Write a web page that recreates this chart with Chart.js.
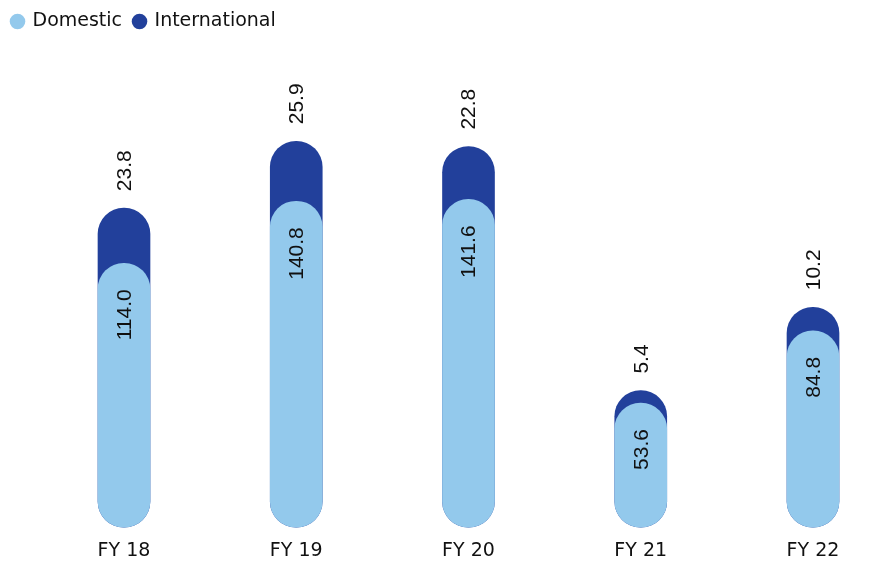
<!DOCTYPE html>
<html>
<head>
<meta charset="utf-8">
<script src="https://cdn.jsdelivr.net/npm/chart.js@4/dist/chart.umd.min.js"></script>
<style>
  html, body { margin: 0; padding: 0; background: #fff; }
  #wrap { width: 880px; height: 561px; position: relative; }
</style>
</head>
<body>
<div id="wrap"><canvas id="chart"></canvas></div>
<script>
const years = ['FY 18', 'FY 19', 'FY 20', 'FY 21', 'FY 22'];
const domestic = [114.0, 140.8, 141.6, 53.6, 84.8];
const international = [23.8, 25.9, 22.8, 5.4, 10.2];

const lightBlue = '#93c9ec';
const darkBlue = '#22409b';
const textFont = '"DejaVu Sans", sans-serif';
const labelFont = '"Liberation Sans", Arial, sans-serif';

// international pill sits behind the domestic pill, reaching up to the total
const totals = domestic.map((d, i) => d + international[i]);

// rotated value labels: domestic inside the pill, international above it
const valueLabels = {
    id: 'valueLabels',
    afterDatasetsDraw(chart) {
        const ctx = chart.ctx;
        const dom = chart.getDatasetMeta(0).data;
        const intl = chart.getDatasetMeta(1).data;
        ctx.save();
        ctx.fillStyle = '#111';
        ctx.font = '21px ' + labelFont;
        ctx.textBaseline = 'middle';
        dom.forEach((bar, i) => {
            ctx.save();
            ctx.translate(bar.x + 1, bar.y + 26);
            ctx.rotate(-Math.PI / 2);
            ctx.textAlign = 'right';
            ctx.fillText(domestic[i].toFixed(1), 0, 0);
            ctx.restore();
        });
        intl.forEach((bar, i) => {
            ctx.save();
            ctx.translate(bar.x + 1, bar.y - 17);
            ctx.rotate(-Math.PI / 2);
            ctx.textAlign = 'left';
            ctx.fillText(international[i].toFixed(1), 0, 0);
            ctx.restore();
        });
        ctx.restore();
    }
};

new Chart(document.getElementById('chart'), {
    type: 'bar',
    data: {
        labels: years,
        datasets: [
            {
                label: 'Domestic',
                data: domestic,
                backgroundColor: lightBlue,
                grouped: false,
                barThickness: 52,
                borderRadius: 26,
                borderSkipped: false,
                clip: false
            },
            {
                label: 'International',
                data: totals,
                backgroundColor: darkBlue,
                grouped: false,
                barThickness: 52,
                borderRadius: 26,
                borderSkipped: false,
                clip: false
            }
        ]
    },
    options: {
        responsive: true,
        maintainAspectRatio: false,
        animation: false,
        layout: { padding: { left: 0, right: 67, top: 0, bottom: -13 } },
        plugins: {
            tooltip: { enabled: false },
            legend: {
                position: 'top',
                align: 'start',
                labels: {
                    usePointStyle: true,
                    pointStyle: 'circle',
                    boxWidth: 11,
                    boxHeight: 11,
                    padding: 12,
                    color: '#111',
                    font: { family: textFont, size: 19 }
                }
            }
        },
        scales: {
            x: {
                offset: false,
                grid: { display: false, drawTicks: false },
                border: { display: false },
                ticks: {
                    padding: 12,
                    maxRotation: 0,
                    color: '#111',
                    font: { family: textFont, size: 19 }
                }
            },
            y: {
                min: 0,
                max: 210,
                grid: { display: false, drawTicks: false },
                border: { display: false },
                ticks: { display: false },
                afterFit(scale) { scale.width = 124; }
            }
        }
    },
    plugins: [valueLabels]
});
</script>
</body>
</html>
